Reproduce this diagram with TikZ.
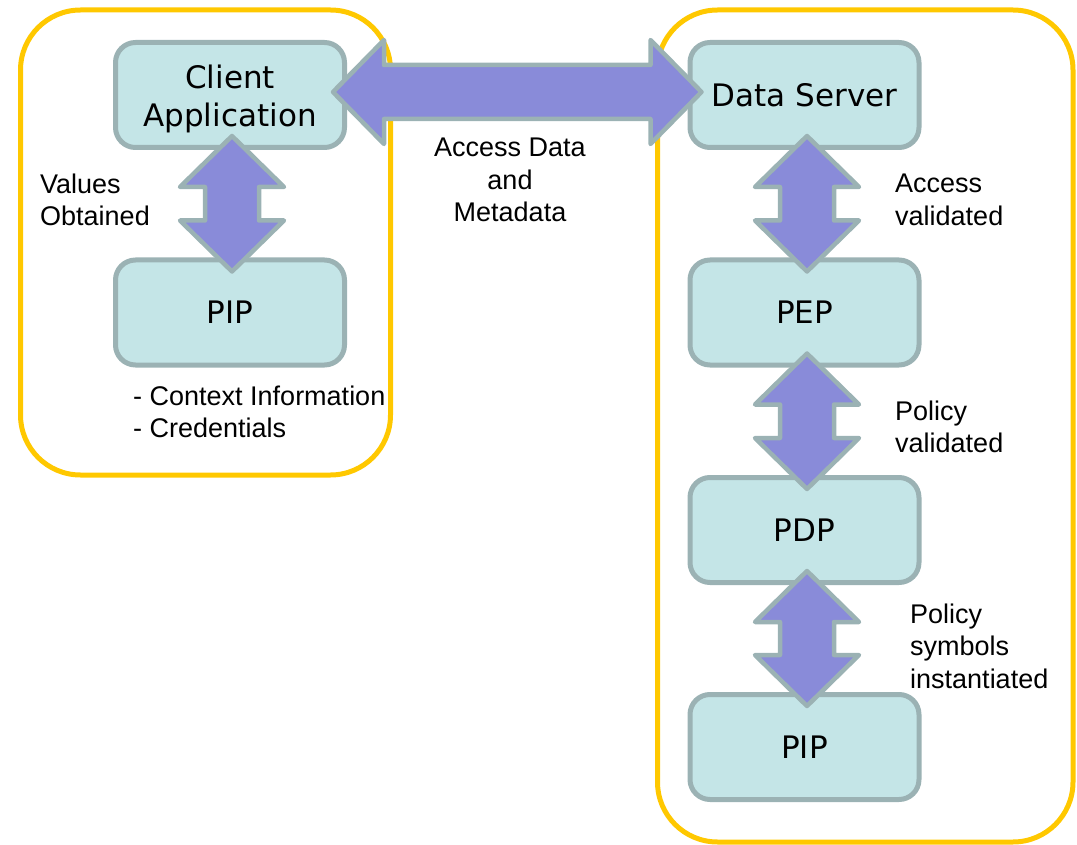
\documentclass[tikz,border=0pt]{standalone}
\usepackage{fontspec}
\setmainfont{Liberation Sans}
\newfontfamily\boxfont{DejaVu Sans}
\usetikzlibrary{calc}
\definecolor{frameyellow}{RGB}{255,200,0}
\definecolor{boxfill}{RGB}{196,229,231}
\definecolor{boxline}{RGB}{155,178,180}
\definecolor{arrowfill}{RGB}{137,139,217}
\tikzset{
  groupframe/.style={draw=frameyellow, line width=5pt, rounded corners=60pt},
  compbox/.style={draw=boxline, fill=boxfill, line width=5pt, rounded corners=20pt,
    minimum width=229pt, minimum height=105pt, inner sep=0pt, align=center,
    font=\boxfont\fontsize{31}{38}\selectfont},
  blockstyle/.style={draw=boxline, fill=arrowfill, line width=4.5pt, line join=round},
  lbl/.style={font=\fontsize{27}{32.5}\selectfont, inner sep=0pt, align=left, anchor=west},
}
\newcommand\blockarrow[2]{%
  \coordinate (ba1) at ($(#1)!-14pt!(#2)$);
  \coordinate (ba2) at ($(#2)!-14pt!(#1)$);
  \draw[blockstyle] (ba1)
    -- ($(ba1)!51pt!(ba2)!52pt!90:(ba2)$)
    -- ($(ba1)!51pt!(ba2)!27pt!90:(ba2)$)
    -- ($(ba2)!51pt!(ba1)!27pt!-90:(ba1)$)
    -- ($(ba2)!51pt!(ba1)!52pt!-90:(ba1)$)
    -- (ba2)
    -- ($(ba2)!51pt!(ba1)!52pt!90:(ba1)$)
    -- ($(ba2)!51pt!(ba1)!27pt!90:(ba1)$)
    -- ($(ba1)!51pt!(ba2)!27pt!-90:(ba2)$)
    -- ($(ba1)!51pt!(ba2)!52pt!-90:(ba2)$)
    -- cycle;
}
\begin{document}
\begin{tikzpicture}[x=1pt,y=-1pt]
\useasboundingbox (0,0) rectangle (1077,845);
% group frames
\draw[groupframe] (20.5,10) rectangle (390.5,475);
\draw[groupframe] (657.5,10) rectangle (1073,842);
% component boxes
\node[compbox, text height=70pt, text depth=7.3pt] (client) at (230,95) {Client\\Application};
\node[compbox] (pipL) at (230,312.5) {PIP};
\node[compbox] (ds) at (804.5,95) {Data Server};
\node[compbox] (pep) at (804.5,312.5) {PEP};
\node[compbox] (pdp) at (804.5,530) {PDP};
\node[compbox] (pipR) at (804.5,747) {PIP};
% block arrows
\blockarrow{$(client.south)+(2,0)$}{$(pipL.north)+(2,0)$}
\blockarrow{$(client.east)+(0,-3)$}{$(ds.west)+(0,-3)$}
\blockarrow{$(ds.south)+(2.5,0)$}{$(pep.north)+(2.5,0)$}
\blockarrow{$(pep.south)+(2.5,0)$}{$(pdp.north)+(2.5,0)$}
\blockarrow{$(pdp.south)+(2.5,0)$}{$(pipR.north)+(2.5,0)$}
% labels
\node[lbl] (lvalues) at (40,200) {Values\\Obtained};
\node[lbl, anchor=center, align=center] (laccess) at (510,180) {Access Data\\and\\Metadata};
\node[lbl] (lvalid) at (895,200) {Access\\validated};
\node[lbl] (lpolicy) at (895,427) {Policy\\validated};
\node[lbl] (lsymb) at (910,646) {Policy\\symbols\\instantiated};
\node[lbl] (lctx) at (133,412) {- Context Information\\- Credentials};
\end{tikzpicture}
\end{document}
